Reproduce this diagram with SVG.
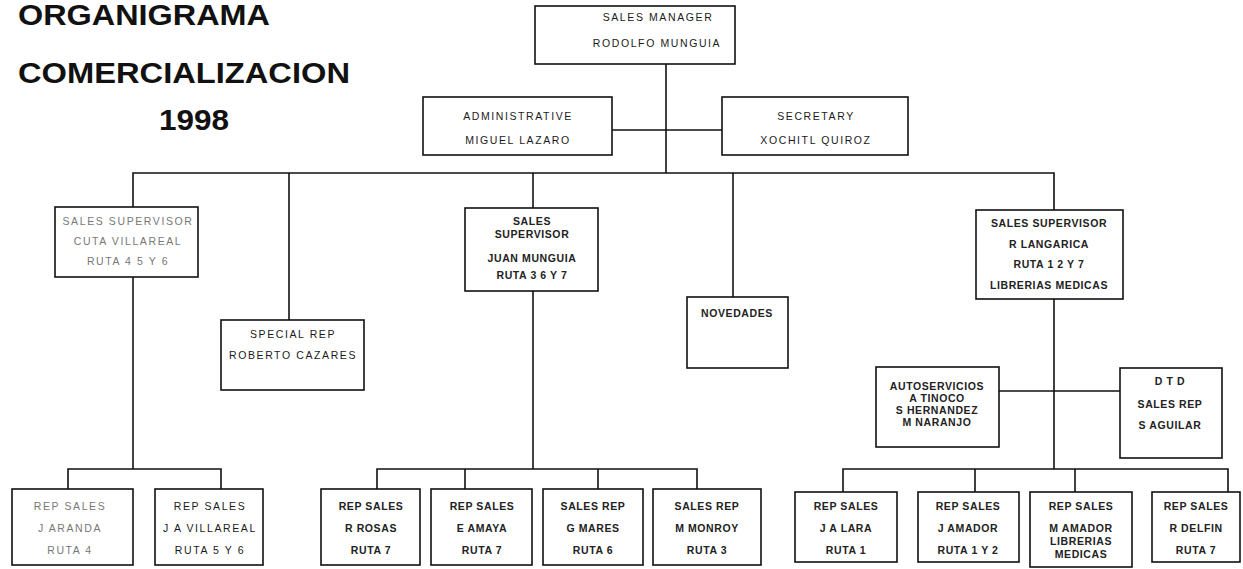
<svg xmlns="http://www.w3.org/2000/svg" width="1243" height="569" viewBox="0 0 1243 569">
  <style>
    .box { fill: #fff; stroke: #111; stroke-width: 1.6; }
    .ln { fill: none; stroke: #111; stroke-width: 1.6; }
    .t { font-family: "Liberation Sans", Arial, sans-serif; font-size: 10.5px; letter-spacing: 1.6px; fill: #1a1a1a; text-anchor: middle; }
    .tb { font-family: "Liberation Sans", Arial, sans-serif; font-size: 10.5px; font-weight: bold; letter-spacing: 0.6px; fill: #222; text-anchor: middle; }
    .faint { fill: #777; }
    .title { font-family: "Liberation Sans", Arial, sans-serif; font-weight: bold; font-size: 29px; fill: #111; }
  </style>

  <!-- Title -->
  <text class="title" x="18" y="25" textLength="252" lengthAdjust="spacingAndGlyphs">ORGANIGRAMA</text>
  <text class="title" x="18" y="83" textLength="332" lengthAdjust="spacingAndGlyphs">COMERCIALIZACION</text>
  <text class="title" x="159" y="130" textLength="70" lengthAdjust="spacingAndGlyphs">1998</text>

  <!-- Connectors -->
  <g id="connectors">
    <path class="ln" d="M666 64 V173"/>
    <path class="ln" d="M612 130 H722"/>
    <path class="ln" d="M133 207 V173 H1054 V210"/>
    <path class="ln" d="M289 173 V320"/>
    <path class="ln" d="M533 173 V208"/>
    <path class="ln" d="M733 173 V297"/>
    <!-- left supervisor branch -->
    <path class="ln" d="M133 277 V469"/>
    <path class="ln" d="M68 489 V469 H221 V489"/>
    <!-- centre supervisor branch -->
    <path class="ln" d="M533 291 V469"/>
    <path class="ln" d="M377 489 V469 H697 V489"/>
    <path class="ln" d="M465 469 V489"/>
    <path class="ln" d="M598 469 V489"/>
    <!-- right supervisor branch -->
    <path class="ln" d="M1054 299 V469"/>
    <path class="ln" d="M999 391 H1120"/>
    <path class="ln" d="M843 492 V469 H1228 V492"/>
    <path class="ln" d="M975 469 V492"/>
    <path class="ln" d="M1075 469 V492"/>
  </g>

  <!-- Top level -->
  <g id="sales-manager">
    <rect class="box" x="535" y="6" width="200" height="58"/>
    <text class="t" x="658" y="21">SALES MANAGER</text>
    <text class="t" x="657" y="47">RODOLFO MUNGUIA</text>
  </g>
  <g id="administrative">
    <rect class="box" x="423" y="97" width="189" height="58"/>
    <text class="t" x="518" y="120">ADMINISTRATIVE</text>
    <text class="t" x="518" y="144">MIGUEL LAZARO</text>
  </g>
  <g id="secretary">
    <rect class="box" x="722" y="97" width="186" height="58"/>
    <text class="t" x="816" y="120">SECRETARY</text>
    <text class="t" x="816" y="144">XOCHITL QUIROZ</text>
  </g>

  <!-- Second level -->
  <g id="supervisor-left">
    <rect class="box" x="55" y="207" width="143" height="70"/>
    <text class="t faint" x="128" y="225">SALES SUPERVISOR</text>
    <text class="t faint" x="128" y="245">CUTA VILLAREAL</text>
    <text class="t faint" x="128" y="265">RUTA 4 5 Y 6</text>
  </g>
  <g id="special-rep">
    <rect class="box" x="221" y="320" width="143" height="70"/>
    <text class="t" x="293" y="338">SPECIAL REP</text>
    <text class="t" x="293" y="359">ROBERTO CAZARES</text>
  </g>
  <g id="supervisor-centre">
    <rect class="box" x="465" y="208" width="133" height="83"/>
    <text class="tb" x="532" y="225">SALES</text>
    <text class="tb" x="532" y="238">SUPERVISOR</text>
    <text class="tb" x="532" y="262">JUAN MUNGUIA</text>
    <text class="tb" x="532" y="279">RUTA 3 6 Y 7</text>
  </g>
  <g id="novedades">
    <rect class="box" x="687" y="297" width="101" height="71"/>
    <text class="tb" x="737" y="317">NOVEDADES</text>
  </g>
  <g id="supervisor-right">
    <rect class="box" x="976" y="210" width="147" height="89"/>
    <text class="tb" x="1049" y="227">SALES SUPERVISOR</text>
    <text class="tb" x="1049" y="248">R  LANGARICA</text>
    <text class="tb" x="1049" y="268">RUTA 1  2 Y 7</text>
    <text class="tb" x="1049" y="289">LIBRERIAS MEDICAS</text>
  </g>
  <g id="autoservicios">
    <rect class="box" x="876" y="367" width="123" height="80"/>
    <text class="tb" x="937" y="390">AUTOSERVICIOS</text>
    <text class="tb" x="937" y="402">A  TINOCO</text>
    <text class="tb" x="937" y="414">S  HERNANDEZ</text>
    <text class="tb" x="937" y="426">M  NARANJO</text>
  </g>
  <g id="dtd">
    <rect class="box" x="1120" y="368" width="102" height="90"/>
    <text class="tb" x="1170" y="385">D T D</text>
    <text class="tb" x="1170" y="408">SALES REP</text>
    <text class="tb" x="1170" y="429">S  AGUILAR</text>
  </g>

  <!-- Bottom row -->
  <g id="rep-aranda">
    <rect class="box" x="12" y="489" width="121" height="76"/>
    <text class="t faint" x="70" y="510">REP SALES</text>
    <text class="t faint" x="70" y="532">J ARANDA</text>
    <text class="t faint" x="70" y="554">RUTA 4</text>
  </g>
  <g id="rep-villareal">
    <rect class="box" x="155" y="489" width="108" height="76"/>
    <text class="t" x="210" y="510">REP SALES</text>
    <text class="t" x="210" y="532">J A VILLAREAL</text>
    <text class="t" x="210" y="554">RUTA 5 Y 6</text>
  </g>
  <g id="rep-rosas">
    <rect class="box" x="321" y="489" width="99" height="76"/>
    <text class="tb" x="371" y="510">REP SALES</text>
    <text class="tb" x="371" y="532">R  ROSAS</text>
    <text class="tb" x="371" y="554">RUTA 7</text>
  </g>
  <g id="rep-amaya">
    <rect class="box" x="431" y="489" width="101" height="76"/>
    <text class="tb" x="482" y="510">REP  SALES</text>
    <text class="tb" x="482" y="532">E  AMAYA</text>
    <text class="tb" x="482" y="554">RUTA 7</text>
  </g>
  <g id="rep-mares">
    <rect class="box" x="543" y="489" width="100" height="76"/>
    <text class="tb" x="593" y="510">SALES REP</text>
    <text class="tb" x="593" y="532">G  MARES</text>
    <text class="tb" x="593" y="554">RUTA 6</text>
  </g>
  <g id="rep-monroy">
    <rect class="box" x="653" y="489" width="108" height="76"/>
    <text class="tb" x="707" y="510">SALES REP</text>
    <text class="tb" x="707" y="532">M  MONROY</text>
    <text class="tb" x="707" y="554">RUTA 3</text>
  </g>
  <g id="rep-lara">
    <rect class="box" x="795" y="492" width="102" height="70"/>
    <text class="tb" x="846" y="510">REP SALES</text>
    <text class="tb" x="846" y="532">J  A  LARA</text>
    <text class="tb" x="846" y="554">RUTA 1</text>
  </g>
  <g id="rep-j-amador">
    <rect class="box" x="918" y="492" width="101" height="70"/>
    <text class="tb" x="968" y="510">REP  SALES</text>
    <text class="tb" x="968" y="532">J   AMADOR</text>
    <text class="tb" x="968" y="554">RUTA 1 Y 2</text>
  </g>
  <g id="rep-m-amador">
    <rect class="box" x="1030" y="492" width="102" height="75"/>
    <text class="tb" x="1081" y="510">REP SALES</text>
    <text class="tb" x="1081" y="532">M  AMADOR</text>
    <text class="tb" x="1081" y="545">LIBRERIAS</text>
    <text class="tb" x="1081" y="558">MEDICAS</text>
  </g>
  <g id="rep-delfin">
    <rect class="box" x="1152" y="492" width="88" height="70"/>
    <text class="tb" x="1196" y="510">REP SALES</text>
    <text class="tb" x="1196" y="532">R   DELFIN</text>
    <text class="tb" x="1196" y="554">RUTA 7</text>
  </g>
</svg>
